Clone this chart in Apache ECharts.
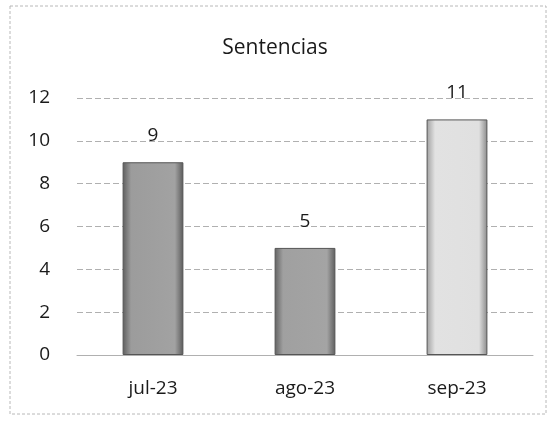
<!DOCTYPE html>
<html>
<head>
<meta charset="utf-8">
<script src="https://cdn.jsdelivr.net/npm/echarts@6/dist/echarts.min.js"></script>
<style>
  html, body { margin: 0; padding: 0; background: #fff; }
  #chart { width: 550px; height: 421px; }
</style>
</head>
<body>
<div id="chart"></div>
<script>
const months = ['jul-23', 'ago-23', 'sep-23']
const sentencias = [9, 5, 11]
const yTicks = [0, 2, 4, 6, 8, 10, 12]

const barFills = [
  ['#5e5e5e', '#9c9c9c', '#a2a2a2', '#5a5a5a'],
  ['#626262', '#a0a0a0', '#a4a4a4', '#5e5e5e'],
  ['#a0a0a0', '#e2e2e2', '#e0e0e0', '#8a8a8a']
]

const gradient = (c) => new echarts.graphic.LinearGradient(0, 0, 1, 0, [
  { offset: 0, color: c[0] },
  { offset: 0.14, color: c[1] },
  { offset: 0.86, color: c[2] },
  { offset: 1, color: c[3] }
])

const chartDom = document.getElementById('chart')
const myChart = echarts.init(chartDom, null, { renderer: 'canvas' })

myChart.setOption({
  animation: false,
  backgroundColor: '#fff',
  textStyle: { fontFamily: 'Open Sans' },
  title: {
    text: 'Sentencias',
    left: 'center',
    top: 33,
    textStyle: { color: '#1a1a1a', fontSize: 21, fontWeight: 'normal', fontFamily: 'Open Sans' }
  },
  graphic: [{
    type: 'rect',
    shape: { x: 10, y: 6, width: 536, height: 408 },
    style: { fill: 'none', stroke: '#b8b8b8', lineWidth: 1, lineDash: [3, 2] }
  }],
  grid: { left: 77, right: 17, top: 98, bottom: 66 },
  xAxis: {
    type: 'category',
    data: months,
    axisLine: { show: true, lineStyle: { color: '#b0b0b0' } },
    axisTick: { show: false },
    axisLabel: { color: '#1a1a1a', fontSize: 19, margin: 24 }
  },
  yAxis: {
    type: 'value',
    min: yTicks[0],
    max: yTicks[yTicks.length - 1],
    interval: 2,
    axisLine: { show: false },
    axisTick: { show: false },
    axisLabel: { color: '#1a1a1a', fontSize: 19, margin: 27 },
    splitLine: { lineStyle: { color: '#b0b0b0', type: [6, 3] } }
  },
  series: [{
    type: 'bar',
    barWidth: '40%',
    data: sentencias.map((v, i) => ({
      value: v,
      itemStyle: { color: gradient(barFills[i]), borderColor: '#555', borderWidth: 1 }
    })),
    label: {
      show: true,
      position: 'top',
      distance: 17,
      color: '#1a1a1a',
      fontSize: 19
    }
  }]
})
</script>
</body>
</html>
